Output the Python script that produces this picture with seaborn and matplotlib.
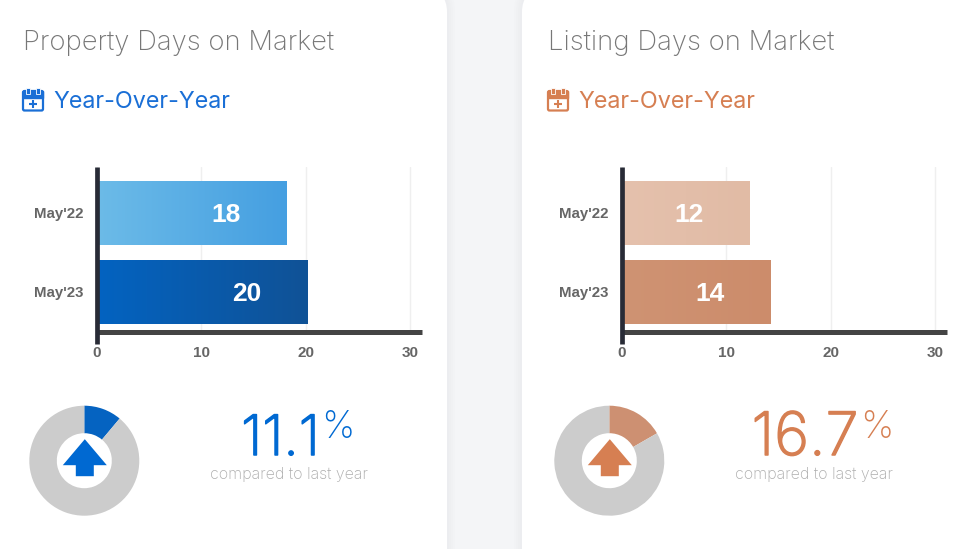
import numpy as np
import pandas as pd
import matplotlib
matplotlib.use("Agg")
import matplotlib.pyplot as plt
import matplotlib.patheffects as pe
from matplotlib.transforms import ScaledTranslation
import seaborn as sns
from matplotlib.patches import FancyBboxPatch, Polygon, Rectangle
from matplotlib.colors import LinearSegmentedColormap

# ---- data ----
periods = ["May'22", "May'23"]
property_days = [18.2, 20.2]
listing_days = [12.2, 14.2]
property_labels = ["18", "20"]
listing_labels = ["12", "14"]
property_change = 11.1
listing_change = 16.7
change_labels = ["11.1", "16.7"]
card_titles = ["Property Days on Market", "Listing Days on Market"]
x_ticks = [0, 10, 20, 30]
subtitle = "Year-Over-Year"
caption = "compared to last year"

W, H = 969, 549
BLUE, ORANGE = "#0069d2", "#d67f52"
sns.set_theme(style="white")
plt.rcParams["font.family"] = ["Liberation Sans", "DejaVu Sans"]
LIGHT = ["Inter", "Lato", "DejaVu Sans"]

fig = plt.figure(figsize=(W / 100, H / 100), dpi=100, facecolor="#f4f5f7")
bg = fig.add_axes([0, 0, 1, 1], zorder=0)
bg.set_xlim(0, W); bg.set_ylim(H, 0); bg.axis("off")


def px_axes(x0, y0, x1, y1, **kw):
    return fig.add_axes([x0 / W, 1 - y1 / H, (x1 - x0) / W, (y1 - y0) / H], **kw)


def card(x0, x1):
    # soft shadow built from a few widening translucent layers
    for grow in (8, 6, 4, 2):
        bg.add_patch(FancyBboxPatch((x0 - grow, -10 - grow), x1 - x0 + 2 * grow, H + 80,
                                    boxstyle=f"round,pad=0,rounding_size={22 + grow}",
                                    fc="#e4e6ea", ec="none", alpha=.12, zorder=1))
    bg.add_patch(FancyBboxPatch((x0, -10), x1 - x0, H + 80,
                                boxstyle="round,pad=0,rounding_size=22",
                                fc="white", ec="none", zorder=2))


def icon(x, color):
    bg.add_patch(FancyBboxPatch((x + 1, 91), 20, 19.5, boxstyle="round,pad=0,rounding_size=1.5",
                                fc="white", ec=color, lw=1.6, zorder=3))
    bg.add_patch(Rectangle((x + 1, 91), 20, 6.5, fc=color, ec=color, lw=1, zorder=3))
    for dx in (6, 16):
        bg.add_patch(Rectangle((x + dx - 1.6, 87.5), 3.2, 6.5, fc=color, ec="white", lw=.6, zorder=4))
    bg.plot([x + 7, x + 15], [104, 104], color=color, lw=1.5, zorder=4, solid_capstyle="butt")
    bg.plot([x + 11, x + 11], [100, 108], color=color, lw=1.5, zorder=4, solid_capstyle="butt")


def bars(x0, values, labels, grads):
    # 10.43 px per unit; band step 79 px
    ax = px_axes(x0, 167, x0 + 325, 331.5, zorder=5)
    ax.patch.set_alpha(0)
    df = pd.DataFrame({"period": periods, "days": values})
    sns.barplot(data=df, x="days", y="period", orient="h", width=.8, ax=ax, color="#888888", saturation=1)
    xlim = (0, 325 / 10.43)
    ylim = (1.493, -0.589)
    ax.set_xlabel(""); ax.set_ylabel("")
    ax.set_xticks(x_ticks)
    ax.grid(axis="x", color="#efefef", lw=1)
    ax.grid(axis="y", visible=False)
    ax.set_axisbelow(True)
    for p, (c0, c1), lab in zip(ax.patches, grads, labels):
        cm = LinearSegmentedColormap.from_list("g", [c0, c1])
        bx, by, bw, bh = p.get_x(), p.get_y(), p.get_width(), p.get_height()
        p.set_visible(False)
        ax.imshow(np.linspace(0, 1, 128)[None, :], cmap=cm, aspect="auto",
                  extent=(bx, bx + bw, by + bh, by), zorder=2)
        ax.text(bw - 60.5 / 10.43, by + bh / 2 + .015, lab, color="white", fontsize=19, fontweight="bold",
                ha="center", va="center", zorder=3)
    ax.set_xlim(*xlim)
    ax.set_ylim(*ylim)
    for s in ("top", "right"):
        ax.spines[s].set_visible(False)
    ax.spines["left"].set(color="#282b36", lw=3.4, zorder=6, capstyle="butt")
    ax.spines["left"].set_bounds(ylim[1], 1.652)
    ax.spines["bottom"].set(color="#444444", lw=3.6, zorder=5, capstyle="butt")
    ax.tick_params(axis="both", length=0, labelcolor="#666666")
    ax.tick_params(axis="x", pad=10.5, labelsize=11)
    ax.tick_params(axis="y", pad=10, labelsize=10.8)
    for t in ax.get_xticklabels() + ax.get_yticklabels():
        t.set_fontweight("bold")
    up = ScaledTranslation(0, 1 / 100, fig.dpi_scale_trans)
    for t in ax.get_yticklabels():
        t.set_transform(t.get_transform() + up)


def donut(cx, cy, change, wedge_color, arrow_color):
    r = 55
    ax = px_axes(cx - r, cy - r, cx + r, cy + r, zorder=5)
    ax.pie([change, 100 - change], colors=[wedge_color, "#cccccc"], startangle=90, counterclock=False,
           radius=1, wedgeprops=dict(width=1 - 27.5 / 55, lw=0))
    ax.set_xlim(-1, 1); ax.set_ylim(-1, 1)
    pts = [(0, -21.5), (22, 4.5), (9, 4.5), (9, 15.5), (-9, 15.5), (-9, 4.5), (-22, 4.5)]
    arrow_ax = px_axes(cx - r, cy - r, cx + r, cy + r, zorder=6)
    arrow_ax.set_xlim(cx - r, cx + r); arrow_ax.set_ylim(cy + r, cy - r); arrow_ax.axis("off")
    arrow_ax.add_patch(Polygon([(cx + .5 + a, cy + b) for a, b in pts], closed=True, fc=arrow_color, ec="none"))


card(-60, 447)
card(522, W + 60)

bg.text(23, 49.5, card_titles[0], fontsize=19.8, family=LIGHT, color="#777777", fontweight="light", zorder=6, va="baseline")
bg.text(548, 49.5, card_titles[1], fontsize=19.8, family=LIGHT, color="#777777", fontweight="light", zorder=6, va="baseline")
bg.text(53, 108.5, subtitle, fontsize=16.8, family=LIGHT, color="#1a6fd6", zorder=6, va="baseline")
bg.text(578, 108.5, subtitle, fontsize=16.8, family=LIGHT, color="#d67f52", zorder=6, va="baseline")
icon(22, "#1a6fd6")
icon(547, "#d67f52")

bars(97, property_days, property_labels, [("#6cbbe8", "#459fe1"), ("#0363c1", "#105296")])
bars(622, listing_days, listing_labels, [("#e5c1ad", "#e1bba5"), ("#cf9373", "#cc8c6b")])

donut(84.3, 460.7, property_change, "#0563c1", BLUE)
donut(609.3, 460.7, listing_change, "#cd9072", ORANGE)

for x, lab, col, size in [(280.5, change_labels[0], BLUE, 40), (805, change_labels[1], ORANGE, 43)]:
    bg.text(x, 455, lab, fontsize=size, family=LIGHT, color=col, ha="center", va="baseline", zorder=6,
            fontweight="light", path_effects=[pe.withStroke(linewidth=1.1, foreground=col)])
bg.text(321, 438, "%", fontsize=27, family=LIGHT, color=BLUE, zorder=6, fontweight="light")
bg.text(860, 438, "%", fontsize=27, family=LIGHT, color=ORANGE, zorder=6, fontweight="light")
bg.text(289, 479, caption, fontsize=11.5, family=LIGHT, color="#adadad", ha="center", zorder=6, fontweight="light")
bg.text(814, 479, caption, fontsize=11.5, family=LIGHT, color="#adadad", ha="center", zorder=6, fontweight="light")

fig.savefig("out.png", dpi=100, facecolor=fig.get_facecolor())
